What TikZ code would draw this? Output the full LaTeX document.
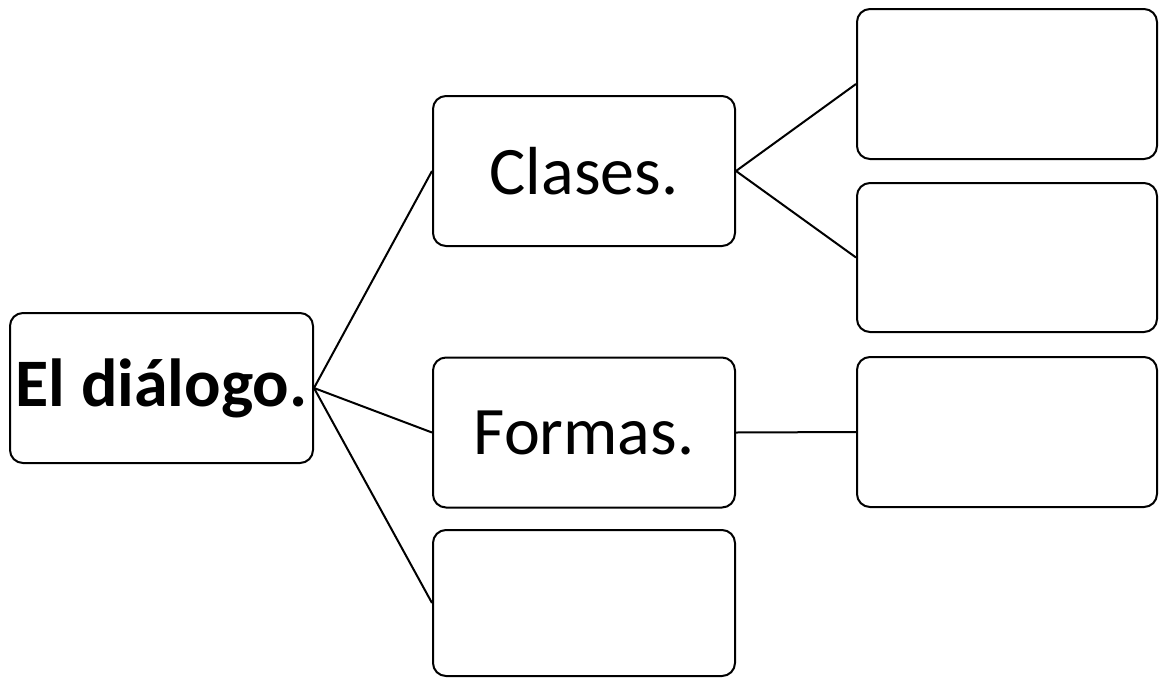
\documentclass[tikz,border=0pt]{standalone}
\usepackage{fontspec}
\setmainfont{Carlito}
\begin{document}
\begin{tikzpicture}[x=1pt,y=-1pt,
  box/.style={draw=black, line width=2pt, rounded corners=13pt, minimum width=302pt, minimum height=150pt, inner sep=0pt, font=\fontsize{68}{80}\selectfont, text=black},
  conn/.style={draw=black, line width=2pt}]
\useasboundingbox (0,0) rectangle (1160,678);
\node[box, minimum width=303pt] (root) at (161.5,388) {\textbf{El diálogo.}};
\node[box] (clases) at (584,171) {Clases.};
\node[box] (formas) at (584,432.5) {Formas.};
\node[box, minimum height=146pt] (empty) at (584,603) {};
\node[box, minimum width=300pt] (r1) at (1007,84) {};
\node[box, minimum width=300pt, minimum height=149pt] (r2) at (1007,257.5) {};
\node[box, minimum width=300pt] (r3) at (1007,432) {};
\draw[conn] (root.east) -- (clases.west);
\draw[conn] (root.east) -- (formas.west);
\draw[conn] (root.east) -- (empty.west);
\draw[conn] (clases.east) -- (r1.west);
\draw[conn] (clases.east) -- (r2.west);
\draw[conn] (formas.east) -- (r3.west);
\end{tikzpicture}
\end{document}
